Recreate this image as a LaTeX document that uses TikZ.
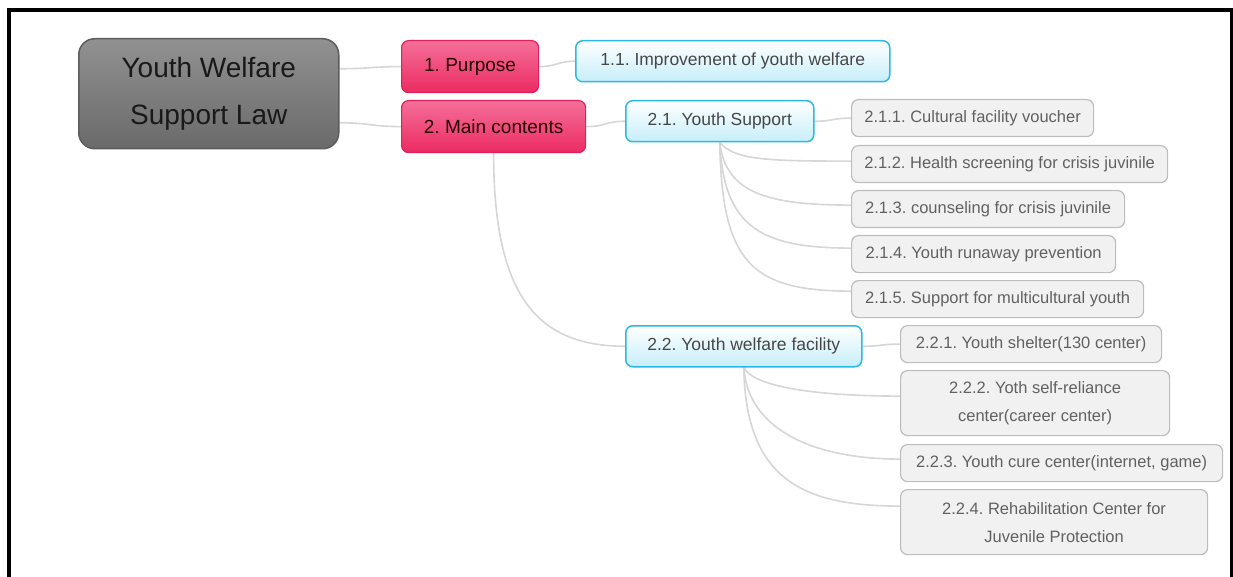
\documentclass[tikz,border=0pt]{standalone}
\usepackage{fontspec}
\setmainfont{Liberation Sans}
\frenchspacing
\definecolor{conn}{HTML}{D6D6D6}
\definecolor{rootTop}{HTML}{919191}
\definecolor{rootBot}{HTML}{6A6A6A}
\definecolor{rootLine}{HTML}{5C5C5C}
\definecolor{pinkTop}{HTML}{F4709A}
\definecolor{pinkBot}{HTML}{EC2A62}
\definecolor{pinkLine}{HTML}{E02058}
\definecolor{cyanTop}{HTML}{FFFFFF}
\definecolor{cyanBot}{HTML}{C6EEFA}
\definecolor{cyanLine}{HTML}{2CB8E6}
\definecolor{grayFill}{HTML}{F1F1F1}
\definecolor{grayLine}{HTML}{BDBDBD}
\pgfdeclarelayer{background}
\pgfsetlayers{background,main}
\begin{document}
\begin{tikzpicture}[x=1pt,y=-1pt,
  every node/.style={inner sep=0pt, anchor=north west},
  rootbox/.style={draw=rootLine, line width=1.5pt, rounded corners=16pt,
    top color=rootTop, bottom color=rootBot, text=black!90,
    font=\fontsize{28}{47}\selectfont, align=center},
  pinkbox/.style={draw=pinkLine, line width=1.2pt, rounded corners=7pt,
    top color=pinkTop, bottom color=pinkBot, text=black!85!red,
    font=\fontsize{19}{24}\selectfont},
  cyanbox/.style={draw=cyanLine, line width=1.5pt, rounded corners=7pt,
    top color=cyanTop, bottom color=cyanBot, text=black!72,
    font=\fontsize{17.5}{22}\selectfont},
  graybox/.style={draw=grayLine, line width=1.2pt, rounded corners=7pt,
    fill=grayFill, text=black!62,
    font=\fontsize{16.5}{28}\selectfont, align=center},
  link/.style={draw=conn, line width=1.6pt}
]
\useasboundingbox (0,0) rectangle (1233,577);

% frame
\draw[line width=3.6pt, black] (9,577) -- (9,9.8) -- (1231.3,9.8) -- (1231.3,577);

% nodes
\node[rootbox, minimum width=260pt, minimum height=110pt] (root) at (78,38) {Youth Welfare\\Support Law};
\node[pinkbox, minimum width=137pt, minimum height=52pt] (p1) at (401,40) {1. Purpose};
\node[pinkbox, minimum width=184pt, minimum height=52pt] (p2) at (401,100) {2. Main contents};
\node[cyanbox, minimum width=314pt, minimum height=41pt] (c11) at (575,40) {1.1. Improvement of youth welfare};
\node[cyanbox, minimum width=188pt, minimum height=41pt] (c21) at (625,100) {2.1. Youth Support};
\node[cyanbox, minimum width=236pt, minimum height=41pt] (c22) at (625,325) {2.2. Youth welfare facility};

\node[graybox, minimum width=242pt, minimum height=37pt] (g211) at (851,99) {2.1.1. Cultural facility voucher};
\node[graybox, minimum width=316pt, minimum height=37pt] (g212) at (851,145) {2.1.2. Health screening for crisis juvinile};
\node[graybox, minimum width=273pt, minimum height=37pt] (g213) at (851,190) {2.1.3. counseling for crisis juvinile};
\node[graybox, minimum width=264pt, minimum height=37pt] (g214) at (851,235) {2.1.4. Youth runaway prevention};
\node[graybox, minimum width=292pt, minimum height=37pt] (g215) at (851,280) {2.1.5. Support for multicultural youth};

\node[graybox, minimum width=261pt, minimum height=37pt] (g221) at (900,325) {2.2.1. Youth shelter(130 center)};
\node[graybox, minimum width=269pt, minimum height=65pt] (g222) at (900,370) {2.2.2. Yoth self-reliance\\center(career center)};
\node[graybox, minimum width=322pt, minimum height=37pt] (g223) at (900,444) {2.2.3. Youth cure center(internet, game)};
\node[graybox, minimum width=307pt, minimum height=65pt] (g224) at (900,489) {2.2.4. Rehabilitation Center for\\Juvenile Protection};

% connectors (behind the boxes)
\begin{pgfonlayer}{background}
\path[link] ([yshift=25pt]root.east) .. controls +(30,0) and +(-30,0) .. (p1.west);
\path[link] ([yshift=-29pt]root.east) .. controls +(30,0) and +(-30,0) .. (p2.west);
\path[link] (p1.east) .. controls +(18,0) and +(-18,0) .. (c11.west);
\path[link] (p2.east) .. controls +(20,0) and +(-20,0) .. (c21.west);
\path[link] (c21.east) .. controls +(19,0) and +(-19,0) .. (g211.west);
\path[link] (c21.south) .. controls +(15,18) and +(-80,0) .. ([yshift=3pt]g212.west);
\path[link] (c21.south) .. controls +(6,50) and +(-85,0) .. ([yshift=4pt]g213.west);
\path[link] (c21.south) .. controls +(4,85) and +(-90,0) .. ([yshift=6pt]g214.west);
\path[link] (c21.south) .. controls +(2,120) and +(-100,0) .. ([yshift=8pt]g215.west);
\path[link] (p2.south) .. controls +(0,140) and +(-90,0) .. (c22.west);
\path[link] (c22.east) .. controls +(19,0) and +(-19,0) .. (g221.west);
\path[link] (c22.south) .. controls +(10,20) and +(-80,0) .. ([yshift=7pt]g222.west);
\path[link] (c22.south) .. controls +(4,60) and +(-90,0) .. ([yshift=4pt]g223.west);
\path[link] (c22.south) .. controls +(2,110) and +(-100,0) .. ([yshift=16pt]g224.west);
\end{pgfonlayer}
\end{tikzpicture}
\end{document}
